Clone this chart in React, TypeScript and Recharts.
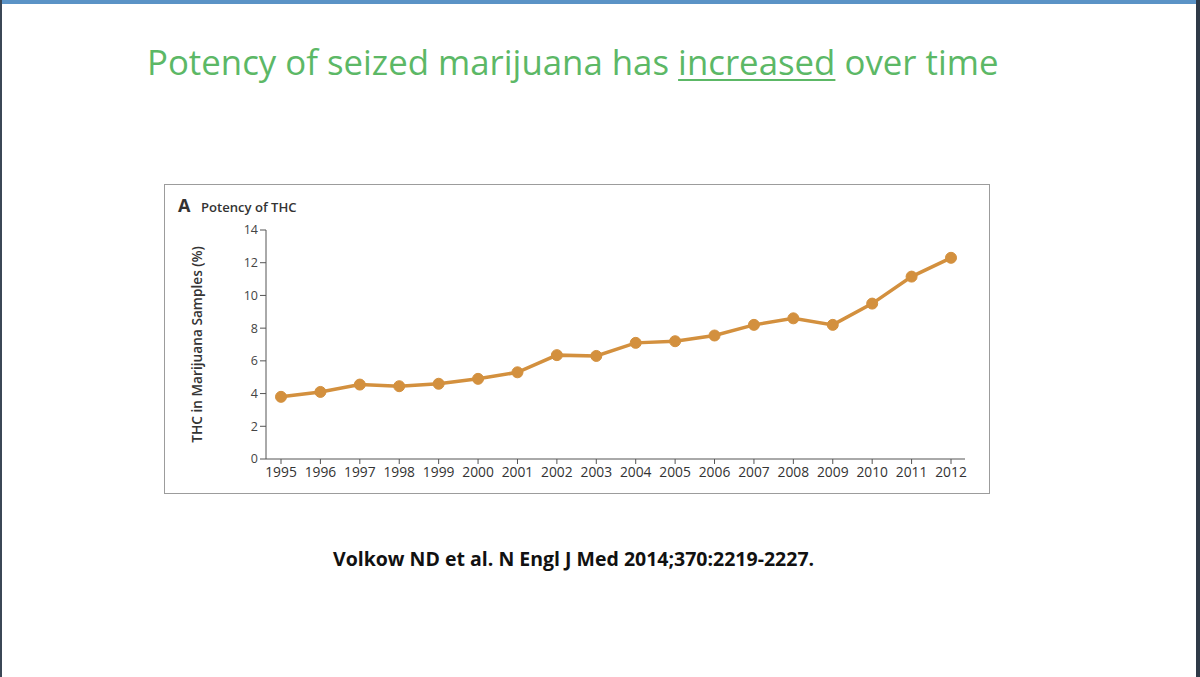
import { Line, LineChart, XAxis, YAxis } from "recharts";

// THC potency of seized marijuana, by year
const years = [
  "1995", "1996", "1997", "1998", "1999", "2000", "2001", "2002", "2003",
  "2004", "2005", "2006", "2007", "2008", "2009", "2010", "2011", "2012",
];
const thcPercent = [
  3.8, 4.1, 4.55, 4.45, 4.6, 4.9, 5.3, 6.35, 6.3,
  7.1, 7.2, 7.55, 8.2, 8.6, 8.2, 9.5, 11.15, 12.3,
];
const yTicks = [0, 2, 4, 6, 8, 10, 12, 14];

const FONT = "'Open Sans', sans-serif";
const ORANGE = "#d3903e";

export default function App() {
  const data = years.map((year, i) => ({ year, thc: thcPercent[i] }));

  return (
    <div
      style={{
        position: "absolute",
        left: 0,
        top: 0,
        width: 1200,
        height: 677,
        background: "#fff",
        overflow: "hidden",
        fontFamily: FONT,
      }}
    >
      {/* slide frame */}
      <div style={{ position: "absolute", left: 0, top: 0, width: 1200, height: 4, background: "#5b93c6" }} />
      <div style={{ position: "absolute", left: 0, top: 0, width: 2, height: 677, background: "#3b4756" }} />
      <div style={{ position: "absolute", left: 1196, top: 0, width: 4, height: 677, background: "#2f3a48" }} />

      <div
        style={{
          position: "absolute",
          left: 147,
          top: 38,
          fontSize: 34.8,
          color: "#5cb866",
          whiteSpace: "nowrap",
        }}
      >
        Potency of seized marijuana has{" "}
        <span
          style={{
            textDecoration: "underline",
            textDecorationThickness: 2,
            textUnderlineOffset: 4,
          }}
        >
          increased
        </span>{" "}
        over time
      </div>

      {/* figure panel */}
      <div
        style={{
          position: "absolute",
          left: 164,
          top: 184,
          width: 826,
          height: 310,
          border: "1.5px solid #9c9c9c",
          boxSizing: "border-box",
        }}
      />
      <div
        style={{
          position: "absolute",
          left: 178,
          top: 193,
          fontSize: 18,
          fontWeight: 700,
          color: "#333",
          whiteSpace: "nowrap",
        }}
      >
        A
      </div>
      <div
        style={{
          position: "absolute",
          left: 201,
          top: 198,
          fontSize: 13.1,
          fontWeight: 600,
          color: "#333",
          whiteSpace: "nowrap",
        }}
      >
        Potency of THC
      </div>

      <div style={{ position: "absolute", left: 165, top: 185 }}>
        <LineChart
          width={824}
          height={308}
          data={data}
          margin={{ top: 45, right: 24, bottom: 4, left: 0 }}
        >
          <XAxis
            dataKey="year"
            padding={{ left: 15, right: 14 }}
            height={30}
            interval={0}
            tickSize={5}
            tickMargin={3}
            stroke="#555"
            tick={{ fill: "#333", fontSize: 13.8, fontFamily: FONT }}
          />
          <YAxis
            domain={[0, 14]}
            ticks={yTicks}
            width={101}
            tickSize={6}
            tickMargin={2}
            stroke="#555"
            tick={{ fill: "#444", fontSize: 12.5, fontFamily: FONT }}
            label={{
              value: "THC in Marijuana Samples (%)",
              angle: -90,
              position: "insideLeft",
              offset: 32,
              style: {
                textAnchor: "middle",
                fill: "#333",
                fontSize: 13.7,
                fontWeight: 600,
                fontFamily: FONT,
              },
            }}
          />
          <Line
            dataKey="thc"
            type="linear"
            stroke={ORANGE}
            strokeWidth={3.5}
            dot={{ r: 5.5, fill: ORANGE, stroke: ORANGE, strokeWidth: 1 }}
            isAnimationActive={false}
          />
        </LineChart>
      </div>

      <div
        style={{
          position: "absolute",
          left: 333,
          top: 545,
          fontSize: 19.5,
          fontWeight: 700,
          color: "#111",
          whiteSpace: "nowrap",
        }}
      >
        Volkow ND et al. N Engl J Med 2014;370:2219-2227.
      </div>
    </div>
  );
}
